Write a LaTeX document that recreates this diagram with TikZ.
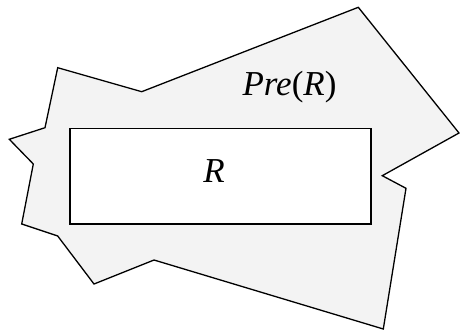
\documentclass[tikz,border=0pt]{standalone}
\usepackage{fontspec}
\setmainfont{Liberation Serif}
\begin{document}
\begin{tikzpicture}[x=1pt,y=-1pt,
  region/.style={draw=black,line width=1.3pt,line join=miter},
  lbl/.style={font=\fontsize{35}{40}\selectfont,inner sep=0pt}]
\useasboundingbox (0,0) rectangle (460,331);
\draw[region,fill={rgb,255:red,243;green,243;blue,243}]
  (57.7,67.7) -- (141.7,91.7) -- (358.3,7.3) -- (459,133) -- (382.3,175.7)
  -- (406,188.3) -- (383.3,329) -- (154,260) -- (94,284) -- (57.7,236)
  -- (21.7,224) -- (33.3,164) -- (9.3,139.3) -- (45,127.7) -- cycle;
\node[region,fill=white,minimum width=301pt,minimum height=95.5pt,inner sep=0pt,anchor=north west] (r) at (69.3,127.7) {};
\node[lbl] (rl) at (214,171) {\textit{R}};
\node[lbl] (pre) at (289.5,87) {\textit{Pre}(\textit{R})};
\end{tikzpicture}
\end{document}
